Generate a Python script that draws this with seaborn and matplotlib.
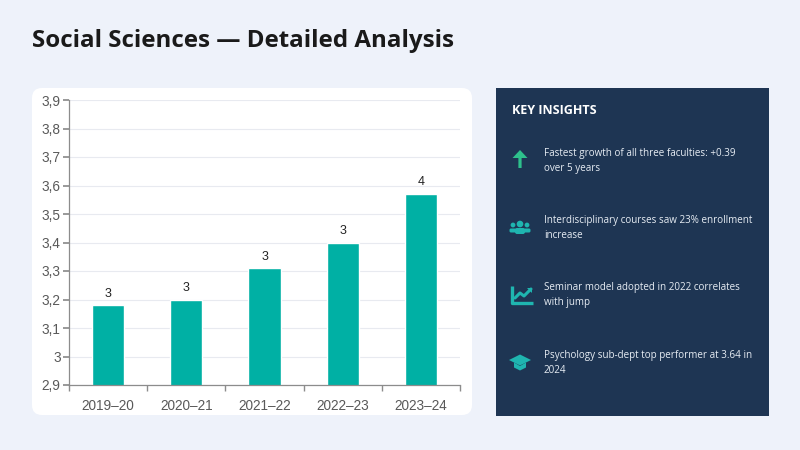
import numpy as np
import pandas as pd
import seaborn as sns
import matplotlib.pyplot as plt
from matplotlib.patches import FancyBboxPatch, Rectangle, Circle, Polygon, FancyArrow
from matplotlib.ticker import FuncFormatter

# --- Data ---
years = ['2019–20', '2020–21', '2021–22', '2022–23', '2023–24']
scores = [3.18, 3.20, 3.31, 3.40, 3.57]
y_ticks = [2.9, 3.0, 3.1, 3.2, 3.3, 3.4, 3.5, 3.6, 3.7, 3.8, 3.9]
title = 'Social Sciences — Detailed Analysis'
panel_title = 'KEY INSIGHTS'
insights = [
    'Fastest growth of all three faculties: +0.39\nover 5 years',
    'Interdisciplinary courses saw 23% enrollment\nincrease',
    'Seminar model adopted in 2022 correlates\nwith jump',
    'Psychology sub-dept top performer at 3.64 in\n2024',
]

BG = '#EEF2FA'
TEAL = '#00B0A4'
NAVY = '#1E3553'

sns.set_theme(style='white')
plt.rcParams['font.family'] = ['Liberation Sans', 'DejaVu Sans']

fig = plt.figure(figsize=(8, 4.5), dpi=100)
fig.patch.set_facecolor(BG)

# overlay in pixel coordinates for the card, panel and icons
ov = fig.add_axes([0, 0, 1, 1], zorder=0)
ov.set_xlim(0, 800)
ov.set_ylim(450, 0)
ov.axis('off')

ov.add_patch(FancyBboxPatch((32, 88), 440, 327, boxstyle='round,pad=0,rounding_size=10',
                            fc='white', ec='none'))
ov.add_patch(Rectangle((496, 88), 273, 328, fc=NAVY, ec='none'))

ov.text(32, 41, title, fontsize=17.4, fontweight='bold', color='#1A1A1A',
        family=['Open Sans', 'DejaVu Sans'], va='center', ha='left')
ov.text(512, 110, panel_title, fontsize=9, fontweight='bold', color='white',
        family=['Open Sans', 'DejaVu Sans'], va='center', ha='left')

item_y = [161, 228, 295, 363]
for yy, txt in zip(item_y, insights):
    ov.text(544, yy, txt, fontsize=7.1, color='#E6ECF3', family=['Open Sans', 'DejaVu Sans'],
            va='center', ha='left', linespacing=1.4)

# icon 1: up arrow
c1 = '#2EC08C'
ov.add_patch(FancyArrow(520, 168, 0, -18, width=3.2, head_width=15, head_length=8,
                        length_includes_head=True, fc=c1, ec='none'))
# icon 2: people
c2 = '#1FB5B0'
y2 = item_y[1]
for cx, r, dy in [(513, 2.4, -3), (527, 2.4, -3), (520, 3.3, -4)]:
    ov.add_patch(Circle((cx, y2 + dy), r, fc=c2, ec='none'))
ov.add_patch(FancyBboxPatch((509.5, y2 + 0.5), 7, 4, boxstyle='round,pad=0,rounding_size=1.5', fc=c2, ec='none'))
ov.add_patch(FancyBboxPatch((523.5, y2 + 0.5), 7, 4, boxstyle='round,pad=0,rounding_size=1.5', fc=c2, ec='none'))
ov.add_patch(FancyBboxPatch((515, y2 + 0), 10, 6, boxstyle='round,pad=0,rounding_size=2', fc=c2, ec='none'))
# icon 3: chart
y3 = item_y[2]
ov.plot([512, 512, 533], [y3 - 9, y3 + 8, y3 + 8], color=c2, lw=2.4, solid_capstyle='butt')
ov.plot([515, 520, 524, 531], [y3 + 3, y3 - 2, y3 + 1, y3 - 6], color=c2, lw=2.2)
ov.add_patch(Polygon([[527, y3 - 7], [532, y3 - 7], [532, y3 - 2]], fc=c2, ec='none'))
# icon 4: graduation cap
y4 = item_y[3]
ov.add_patch(Polygon([[509, y4 - 3], [520, y4 - 8.5], [531, y4 - 3], [520, y4 + 2.5]], fc=c2, ec='none'))
ov.add_patch(Polygon([[514, y4 - 0.5], [520, y4 + 3], [526, y4 - 0.5], [526, y4 + 4.5],
                      [520, y4 + 7.5], [514, y4 + 4.5]], fc=c2, ec='none'))

# --- Bar chart ---
ax = fig.add_axes([69 / 800, 1 - 385 / 450, (460 - 69) / 800, (385 - 100) / 450], zorder=1)
ax.set_facecolor('none')
df = pd.DataFrame({'year': years, 'score': scores})
sns.barplot(data=df, x='year', y='score', color=TEAL, saturation=1, width=0.41, ax=ax)

ax.set_ylim(2.9, 3.9)
ax.set_yticks(y_ticks)
ax.yaxis.set_major_formatter(FuncFormatter(lambda v, p: f'{v:.1f}'.replace('.', ',').replace(',0', '')))
ax.grid(axis='y', color='#E8EAF0', lw=0.8)
ax.set_axisbelow(True)
ax.set_xlabel('')
ax.set_ylabel('')
for s in ['top', 'right']:
    ax.spines[s].set_visible(False)
for s in ['left', 'bottom']:
    ax.spines[s].set_color('#8C8C8C')
    ax.spines[s].set_linewidth(0.9)

ax.tick_params(axis='y', left=True, length=4, color='#8C8C8C', labelsize=9.8, labelcolor='#595959', pad=2)
ax.tick_params(axis='x', bottom=False, labelsize=9.8, labelcolor='#595959', pad=4)
ax.set_xticks(np.arange(-0.5, len(years), 1), minor=True)
ax.tick_params(axis='x', which='minor', bottom=True, length=4, color='#8C8C8C')
ax.set_xlim(-0.5, len(years) - 0.5)

for cont in ax.containers:
    ax.bar_label(cont, labels=[f'{v:.0f}' for v in scores], padding=4, fontsize=9, color='#222222')

fig.savefig('out.png', dpi=100, facecolor=BG)
